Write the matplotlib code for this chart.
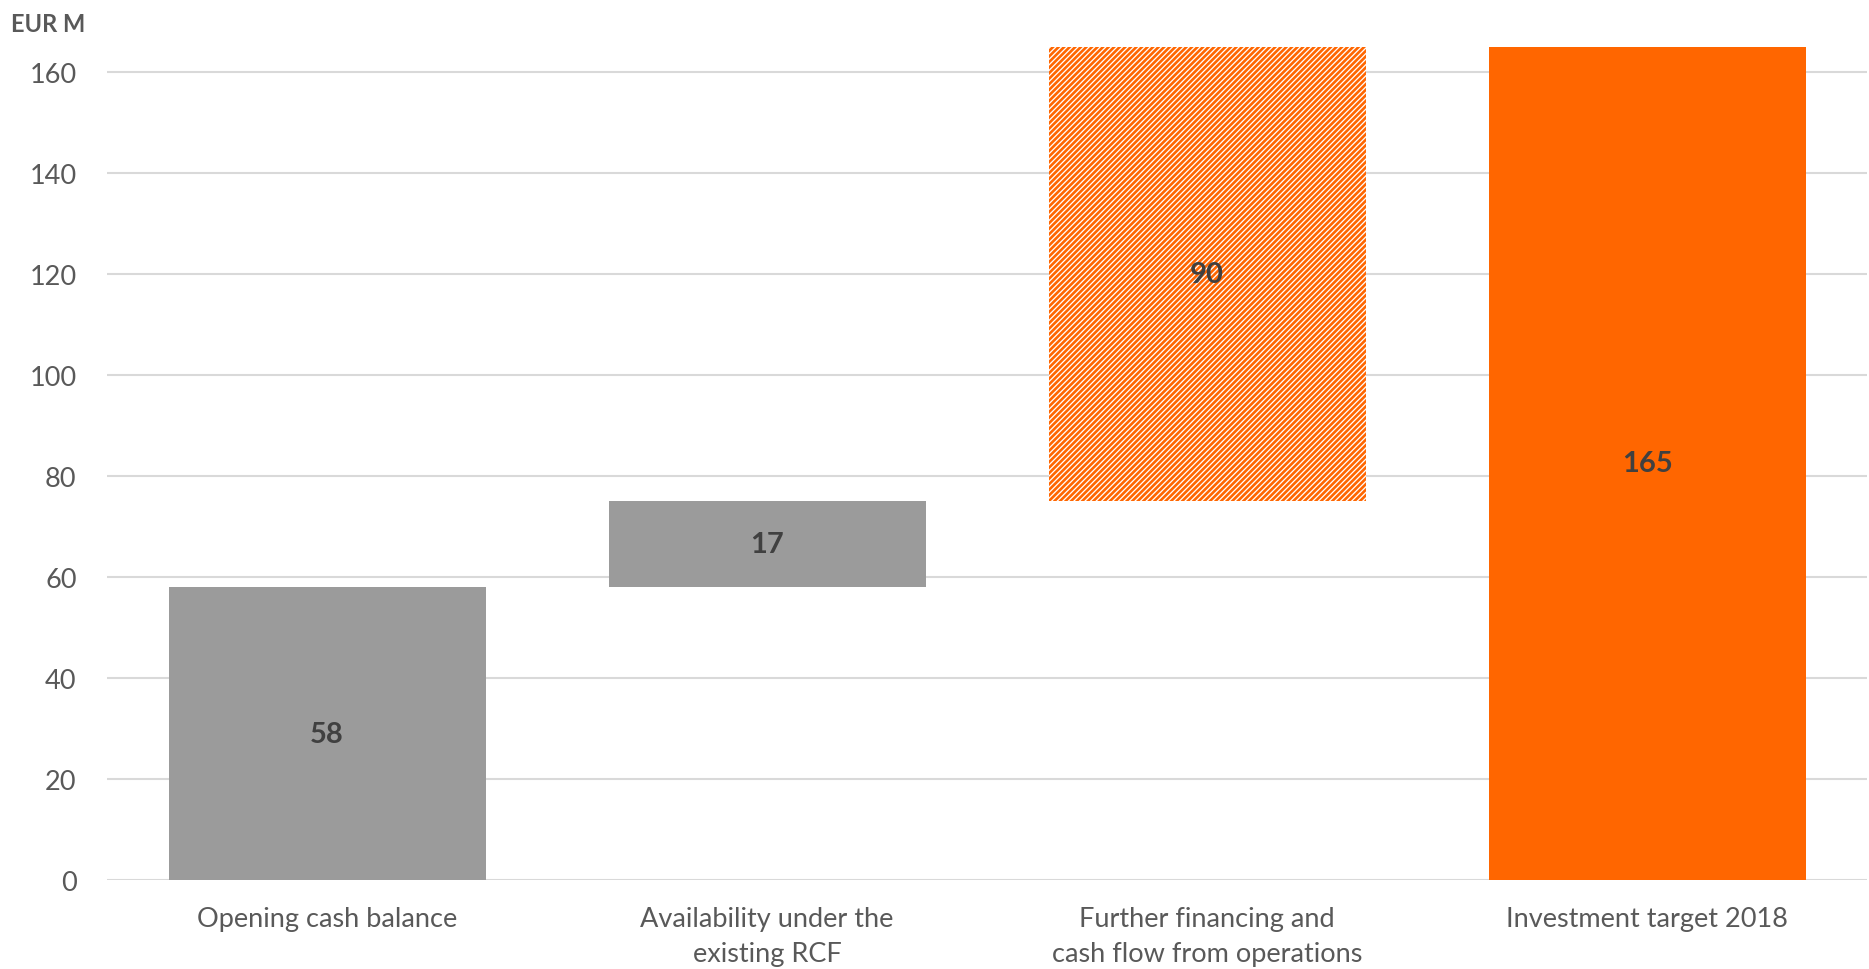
import matplotlib.pyplot as plt
import numpy as np

# funding bridge, EUR M
categories = ['Opening cash balance', 'Availability under the\nexisting RCF',
              'Further financing and\ncash flow from operations', 'Investment target 2018']
values = [58, 17, 90, 165]
is_total = [False, False, False, True]

grey = '#9B9B9B'
orange = '#FF6600'
txt = '#595959'

plt.rcParams['font.family'] = ['Lato', 'DejaVu Sans']
plt.rcParams['hatch.linewidth'] = 1.9
plt.rcParams['hatch.color'] = orange

fig = plt.figure(figsize=(18.69, 9.70), dpi=100)
ax = fig.add_axes([0.0573, 0.0918, 0.9417, 0.8587])

x = np.arange(len(categories))
bottoms = []
run = 0
for v, tot in zip(values, is_total):
    if tot:
        bottoms.append(0)
    else:
        bottoms.append(run)
        run += v

for i, (v, b) in enumerate(zip(values, bottoms)):
    if i < 2:
        ax.bar(x[i], v, bottom=b, width=0.72, color=grey, zorder=3)
    elif i == 2:
        ax.bar(x[i], v, bottom=b, width=0.72, facecolor='white', edgecolor=orange,
               hatch='//////', linewidth=0, zorder=3)
    else:
        ax.bar(x[i], v, bottom=b, width=0.72, color=orange, zorder=3)
    ax.text(x[i], b + v / 2, str(v), ha='center', va='center', fontsize=21,
            fontweight='bold', color='#404040', zorder=4)

ax.set_xlim(-0.5, 3.5)
ax.set_ylim(0, 165)
ax.set_yticks(np.arange(0, 161, 20))
ax.yaxis.grid(True, color='#D9D9D9', linewidth=1.5, zorder=0)
ax.set_xticks(x)
ax.set_xticklabels(categories, fontsize=19.5, color=txt, linespacing=1.5)
ax.tick_params(axis='both', length=0, labelsize=19.5, colors=txt)
ax.tick_params(axis='x', pad=19)
ax.tick_params(axis='y', pad=22)
for s in ax.spines.values():
    s.set_visible(False)

fig.text(0.006, 0.987, 'EUR M', fontsize=17, fontweight='bold', color=txt,
         ha='left', va='top')

fig.savefig('out.png', dpi=100, facecolor='white')
